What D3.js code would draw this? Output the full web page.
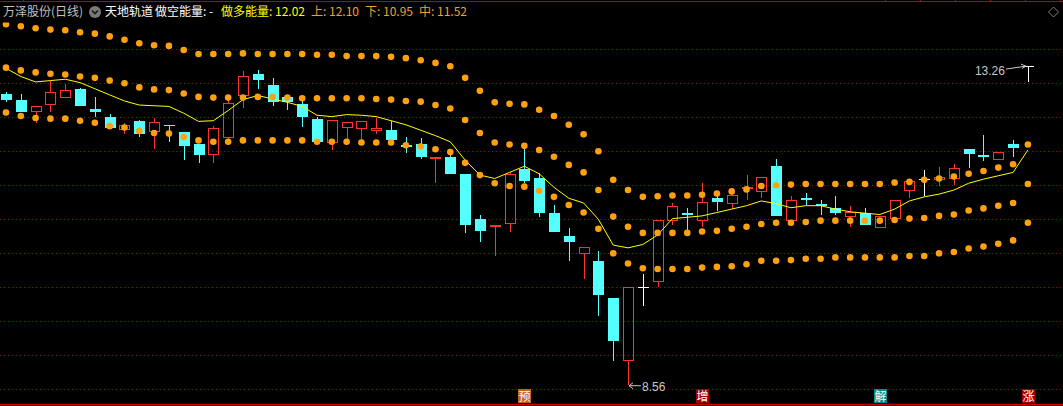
<!DOCTYPE html>
<html><head><meta charset="utf-8">
<script src="https://cdn.jsdelivr.net/npm/d3@7"></script>
<style>html,body{margin:0;padding:0;background:#000;overflow:hidden}svg{display:block}</style>
</head><body><svg id="c" width="1063" height="406"></svg>
<script>
// ---- data (prices) ----
const openP = [12.85,12.75,12.60,12.69,12.80,12.92,12.62,12.50,12.33,12.45,
 12.30,12.39,12.28,12.11,11.96,12.21,12.83,13.14,12.98,12.80,
 12.70,12.48,12.13,12.36,12.35,12.32,12.31,12.10,12.11,11.90,
 11.92,11.67,11.00,10.90,10.94,11.74,11.61,11.10,10.75,10.50,
 10.39,9.84,8.93,10.00,10.10,10.99,11.10,10.99,11.32,11.24,
 11.46,11.41,11.78,10.99,11.31,11.23,11.16,11.05,11.09,10.88,
 11.02,11.43,11.59,11.59,11.61,12.03,11.95,11.89,12.11,13.26];
const highP = [12.87,12.84,12.67,13.04,12.99,12.93,12.80,12.55,12.42,12.46,
 12.49,12.39,12.28,12.11,12.37,12.79,13.18,13.20,13.08,12.80,
 12.75,12.50,12.46,12.43,12.45,12.49,12.45,12.21,12.19,11.91,
 11.96,11.67,11.06,10.91,11.70,12.04,11.68,11.21,10.87,10.59,
 10.53,9.84,10.00,10.20,10.99,11.24,11.16,11.54,11.41,11.44,
 11.65,11.62,11.89,11.34,11.39,11.28,11.34,11.20,11.16,11.05,
 11.28,11.56,11.73,11.77,11.82,12.03,12.24,11.99,12.17,13.26];
const lowP = [12.72,12.58,12.42,12.58,12.79,12.67,12.51,12.35,12.26,12.21,
 12.04,12.14,11.87,11.83,11.83,12.14,12.64,12.92,12.67,12.61,
 12.36,12.14,12.02,12.17,12.16,12.26,12.17,11.97,11.89,11.53,
 11.67,10.80,10.67,10.46,10.82,11.53,11.04,10.82,10.39,10.12,
 9.58,8.91,8.56,9.72,10.00,10.92,10.84,10.89,11.12,11.15,
 11.28,11.31,11.05,10.99,11.21,11.06,11.06,10.88,10.92,10.88,
 11.02,11.32,11.34,11.49,11.51,11.75,11.86,11.87,11.92,13.02];
const closeP = [12.75,12.58,12.67,12.87,12.90,12.67,12.58,12.35,12.39,12.26,
 12.43,12.38,12.08,11.95,12.35,12.71,13.11,13.05,12.73,12.72,
 12.51,12.14,12.46,12.43,12.45,12.35,12.17,12.07,11.91,11.91,
 11.67,10.92,10.83,10.91,11.67,11.57,11.10,10.82,10.66,10.59,
 9.89,9.21,10.00,10.00,10.99,11.20,11.07,11.25,11.26,11.36,
 11.48,11.62,11.05,11.29,11.28,11.19,11.10,11.11,10.92,11.05,
 11.28,11.56,11.59,11.62,11.75,11.96,11.92,11.99,12.05,13.26];
// 上 / 中 / 下 band dots
const upperBand = [13.87,13.84,13.81,13.79,13.78,13.75,13.73,13.69,13.64,13.59,
 13.56,13.55,13.49,13.43,13.43,13.43,13.44,13.43,13.43,13.43,
 13.43,13.42,13.42,13.40,13.40,13.40,13.39,13.37,13.34,13.30,
 13.25,13.08,12.89,12.72,12.70,12.69,12.61,12.52,12.39,12.25,
 12.00,11.58,11.43,11.33,11.34,11.35,11.35,11.36,11.38,11.41,
 11.44,11.49,11.50,11.51,11.52,11.52,11.52,11.52,11.52,11.52,
 11.54,11.55,11.58,11.60,11.63,11.67,11.71,11.76,11.81,12.10];
const midBand = [13.23,13.19,13.16,13.14,13.13,13.10,13.08,13.04,13.00,12.94,
 12.91,12.90,12.85,12.80,12.79,12.79,12.79,12.80,12.80,12.79,
 12.78,12.78,12.78,12.78,12.78,12.77,12.76,12.74,12.73,12.68,
 12.63,12.46,12.27,12.13,12.10,12.08,12.02,11.92,11.80,11.69,
 11.43,11.04,10.89,10.80,10.80,10.80,10.80,10.82,10.83,10.86,
 10.89,10.93,10.95,10.95,10.96,10.98,10.98,10.98,10.98,10.98,
 10.99,11.01,11.02,11.05,11.07,11.13,11.16,11.20,11.24,11.52];
const lowerBand = [12.57,12.52,12.49,12.48,12.48,12.45,12.42,12.37,12.35,12.30,
 12.27,12.26,12.21,12.16,12.14,12.14,12.16,12.16,12.16,12.16,
 12.16,12.14,12.14,12.14,12.13,12.13,12.13,12.09,12.07,12.03,
 11.99,11.83,11.65,11.53,11.49,11.48,11.42,11.33,11.21,11.10,
 10.86,10.50,10.35,10.28,10.27,10.27,10.27,10.29,10.30,10.31,
 10.34,10.39,10.39,10.40,10.42,10.42,10.44,10.44,10.44,10.44,
 10.44,10.46,10.46,10.50,10.52,10.57,10.60,10.64,10.69,10.95];
// 做多能量 line
const bullLine = [13.22,13.10,13.02,13.04,13.06,13.01,12.92,12.83,12.74,12.68,
 12.67,12.66,12.56,12.44,12.45,12.60,12.76,12.82,12.77,12.72,
 12.66,12.53,12.51,12.54,12.53,12.51,12.45,12.39,12.31,12.23,
 12.14,11.87,11.65,11.60,11.69,11.78,11.67,11.47,11.31,11.24,
 11.00,10.62,10.58,10.63,10.77,11.01,11.03,11.05,11.10,11.15,
 11.20,11.27,11.23,11.17,11.20,11.20,11.15,11.11,11.09,11.07,
 11.15,11.27,11.33,11.37,11.43,11.53,11.59,11.64,11.69,12.02];
const gridPrices = [13.5,13.0,12.5,12.0,11.5,11.0,10.5,10.0,9.5,9.0,8.5];
const signalIdx = [35,47,59,69];
const signalText = ['预','增','解','涨'];
const bearText = '-';

// ---- drawing ----
const W = 1063, H = 406;
const svg = d3.select('#c');
svg.append('rect').attr('width', W).attr('height', H).attr('fill', '#000');
svg.append('defs').append('clipPath').attr('id', 'clip')
  .append('rect').attr('x', 0).attr('y', 22.5).attr('width', W).attr('height', 381);

const x = d3.scaleLinear().domain([0, openP.length - 1]).range([6, 1027.9]);
const y = d3.scaleLinear().domain([8.5, 13.5]).range([389.3, 49.3]);

// grid
svg.append('g').selectAll('line').data(gridPrices).join('line')
  .attr('x1', 0).attr('x2', W)
  .attr('y1', d => Math.round(y(d)) + 0.5).attr('y2', d => Math.round(y(d)) + 0.5)
  .attr('stroke', '#9a0000').attr('stroke-width', 1).attr('stroke-dasharray', '1,3');

// frame lines
svg.append('line').attr('x1', 0).attr('x2', W).attr('y1', 1.5).attr('y2', 1.5)
  .attr('stroke', '#c00000').attr('stroke-width', 1.2);
[23, 885, 920, 955, 990, 1025, 1060].forEach(t => {
  svg.append('line').attr('x1', t + 0.5).attr('x2', t + 0.5).attr('y1', 0).attr('y2', 2)
    .attr('stroke', '#c00000');
});
svg.append('line').attr('x1', 0).attr('x2', W).attr('y1', 404.5).attr('y2', 404.5)
  .attr('stroke', '#d00000').attr('stroke-width', 1.5);

const plot = svg.append('g').attr('clip-path', 'url(#clip)');
const RED = '#ff3232', CYAN = '#54ffff', WHITE = '#ffffff';

// candles
const cg = plot.append('g').attr('shape-rendering', 'crispEdges');
d3.range(openP.length).forEach(i => {
  const px = Math.round(x(i));
  const cx = px + 0.5;
  const o = y(openP[i]), c = y(closeP[i]), h = y(highP[i]), l = y(lowP[i]);
  const top = Math.round(Math.min(o, c)), bot = Math.round(Math.max(o, c));
  if (closeP[i] > openP[i]) {
    cg.append('line').attr('x1', cx).attr('x2', cx).attr('y1', Math.round(h)).attr('y2', top).attr('stroke', RED);
    cg.append('line').attr('x1', cx).attr('x2', cx).attr('y1', bot).attr('y2', Math.round(l)).attr('stroke', RED);
    cg.append('rect').attr('x', px - 4.5).attr('y', top + 0.5).attr('width', 10)
      .attr('height', Math.max(bot - top, 1)).attr('fill', 'none').attr('stroke', RED);
  } else if (closeP[i] < openP[i]) {
    cg.append('line').attr('x1', cx).attr('x2', cx).attr('y1', Math.round(h)).attr('y2', Math.round(l)).attr('stroke', CYAN);
    cg.append('rect').attr('x', px - 5).attr('y', top).attr('width', 11)
      .attr('height', Math.max(bot - top, 1)).attr('fill', CYAN);
  } else {
    cg.append('line').attr('x1', cx).attr('x2', cx).attr('y1', Math.round(h)).attr('y2', Math.round(l)).attr('stroke', WHITE);
    cg.append('line').attr('x1', px - 5).attr('x2', px + 6).attr('y1', top + 0.5).attr('y2', top + 0.5).attr('stroke', WHITE);
  }
});

// 做多能量 line
plot.append('path').datum(bullLine)
  .attr('d', d3.line().x((d, i) => x(i)).y(d => y(d)))
  .attr('fill', 'none').attr('stroke', '#ffff00').attr('stroke-width', 1);

// band dots
const dg = plot.append('g');
[upperBand, midBand, lowerBand].forEach(arr => {
  dg.append('g').selectAll('circle').data(arr).join('circle')
    .attr('cx', (d, i) => x(i)).attr('cy', d => y(d)).attr('r', 3.3)
    .attr('fill', '#ffa010');
});

// extreme annotations
const lowIdx = d3.minIndex(lowP), highIdx = d3.maxIndex(highP);
const ann = svg.append('g').attr('font-family', '"Liberation Sans", Arial, sans-serif').attr('font-size', 12).attr('fill', '#c8c8c8');
const lx = x(lowIdx), ly = y(lowP[lowIdx]);
ann.append('line').attr('x1', lx + 1).attr('x2', lx + 13).attr('y1', ly + 0.5).attr('y2', ly + 0.5).attr('stroke', '#c8c8c8');
ann.append('path').attr('d', `M${lx + 5},${ly - 2.5}L${lx + 1},${ly + 0.5}L${lx + 5},${ly + 3.5}`).attr('fill', 'none').attr('stroke', '#c8c8c8');
ann.append('text').attr('x', lx + 14).attr('y', ly + 6).text(lowP[lowIdx].toFixed(2));
const hx = x(highIdx), hy = y(highP[highIdx]);
ann.append('line').attr('x1', hx - 22).attr('x2', hx - 2).attr('y1', hy + 3.5).attr('y2', hy + 0.5).attr('stroke', '#c8c8c8');
ann.append('path').attr('d', `M${hx - 7},${hy - 1.5}L${hx - 2},${hy + 0.5}L${hx - 6},${hy + 3}`).attr('fill', 'none').attr('stroke', '#c8c8c8');
ann.append('text').attr('x', hx - 53).attr('y', hy + 9.5).text(highP[highIdx].toFixed(2));

// bottom signal boxes
const sg = svg.append('g').attr('font-family', '"Noto Sans CJK SC", sans-serif').attr('font-size', 12);
const sigColor = {'预': '#c8601a', '增': '#a00000', '解': '#008c8c', '涨': '#a00000'};
signalIdx.forEach((si, k) => {
  const sx = Math.round(x(si));
  sg.append('rect').attr('x', sx - 6).attr('y', 389).attr('width', 13).attr('height', 14).attr('fill', sigColor[signalText[k]]);
  sg.append('text').attr('x', sx + 0.5).attr('y', 400.5).attr('text-anchor', 'middle').attr('fill', '#ffffff').text(signalText[k]);
});

// header
const hd = svg.append('g').attr('font-family', '"Noto Sans CJK SC", sans-serif').attr('font-size', 12);
const last = openP.length - 1;
hd.append('text').attr('x', 3).attr('y', 16).attr('fill', '#c0c0c0').text('万泽股份(日线)');
hd.append('circle').attr('cx', 95).attr('cy', 12).attr('r', 6).attr('fill', '#7a7a7a');
hd.append('path').attr('d', 'M92,10.5L95,13.5L98,10.5').attr('fill', 'none').attr('stroke', '#1a1a1a').attr('stroke-width', 1.6);
hd.append('text').attr('x', 105).attr('y', 16).attr('fill', '#ffffff').text('天地轨道');
hd.append('text').attr('x', 155).attr('y', 16).attr('fill', '#ffffff').text('做空能量: ' + bearText);
hd.append('text').attr('x', 221).attr('y', 16).attr('fill', '#ffff00').text('做多能量: ' + bullLine[last].toFixed(2));
hd.append('text').attr('x', 311).attr('y', 16).attr('fill', '#f0a030').text('上: ' + upperBand[last].toFixed(2));
hd.append('text').attr('x', 365).attr('y', 16).attr('fill', '#f0a030').text('下: ' + lowerBand[last].toFixed(2));
hd.append('text').attr('x', 419).attr('y', 16).attr('fill', '#f0a030').text('中: ' + midBand[last].toFixed(2));
svg.append('path').attr('d', 'M1053.5,7L1058.5,12L1053.5,17L1048.5,12Z').attr('fill', 'none').attr('stroke', '#808080');
</script></body></html>
